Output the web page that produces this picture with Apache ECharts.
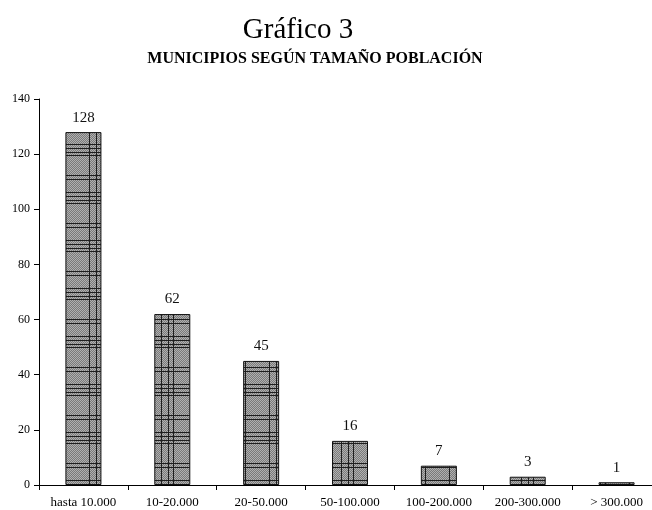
<!DOCTYPE html>
<html>
<head>
<meta charset="utf-8">
<script src="https://cdn.jsdelivr.net/npm/echarts@6/dist/echarts.min.js"></script>
<style>
  html, body { margin: 0; padding: 0; background: #fff; overflow: hidden; }
  /* the plot runs a few pixels past the right edge of the page */
  #chart { width: 661px; height: 510px; }
</style>
</head>
<body>
<div id="chart"></div>
<script>
// Municipios por tramo de población
const categories = ['hasta 10.000', '10-20.000', '20-50.000', '50-100.000', '100-200.000', '200-300.000', '> 300.000'];
const municipios = [128, 62, 45, 16, 7, 3, 1];
const yTicks = [0, 20, 40, 60, 80, 100, 120, 140];

// Trama gris punteada con líneas oscuras, como en la impresión original
function plaidTile() {
  const w = 36, h = 48;
  const c = document.createElement('canvas');
  c.width = w; c.height = h;
  const g = c.getContext('2d');
  g.fillStyle = '#7a7a7a';
  g.fillRect(0, 0, w, h);
  g.fillStyle = '#b0b0b0';
  for (let y = 0; y < h; y++) {
    for (let x = (y % 2); x < w; x += 2) g.fillRect(x, y, 1, 1);
  }
  g.fillStyle = '#1e1e1e';
  [17, 24, 29].forEach(x => g.fillRect(x, 0, 1, h));
  [0, 4, 8, 11, 31, 35].forEach(y => g.fillRect(0, y, w, 1));
  return c;
}

const chart = echarts.init(document.getElementById('chart'), null, { renderer: 'canvas' });
const serif = '"Liberation Serif", "DejaVu Serif", serif';

chart.setOption({
  animation: false,
  backgroundColor: '#ffffff',
  title: [
    {
      text: 'Gráfico 3',
      left: 293, top: 11, textAlign: 'center',
      textStyle: { fontFamily: serif, fontSize: 29, fontWeight: 'normal', color: '#000' }
    },
    {
      text: 'MUNICIPIOS SEGÚN TAMAÑO POBLACIÓN',
      left: 310, top: 46, textAlign: 'center',
      textStyle: { fontFamily: serif, fontSize: 16, fontWeight: 'bold', color: '#000' }
    }
  ],
  grid: { left: 39, right: 0, top: 99, bottom: 25, containLabel: false },
  xAxis: {
    type: 'category',
    data: categories,
    boundaryGap: true,
    axisLine: { lineStyle: { color: '#000', width: 1 } },
    axisTick: { show: true, length: 5, lineStyle: { color: '#000' } },
    axisLabel: { fontFamily: serif, fontSize: 13, color: '#000', margin: 11, interval: 0 },
    splitLine: { show: false }
  },
  yAxis: {
    type: 'value',
    min: 0, max: 140, interval: 20,
    axisLine: { show: true, lineStyle: { color: '#000', width: 1 } },
    axisTick: { show: true, length: 5, lineStyle: { color: '#000' } },
    axisLabel: {
      fontFamily: serif, fontSize: 12, color: '#000', margin: 9,
      formatter: v => (yTicks.indexOf(v) >= 0 ? String(v) : '')
    },
    splitLine: { show: false }
  },
  series: [{
    type: 'bar',
    data: municipios,
    barWidth: 36,
    itemStyle: {
      color: { image: plaidTile(), repeat: 'repeat' },
      borderColor: '#111',
      borderWidth: 1
    },
    label: {
      show: true, position: 'top', distance: 7,
      fontFamily: serif, fontSize: 15, color: '#111'
    }
  }]
});
</script>
</body>
</html>
